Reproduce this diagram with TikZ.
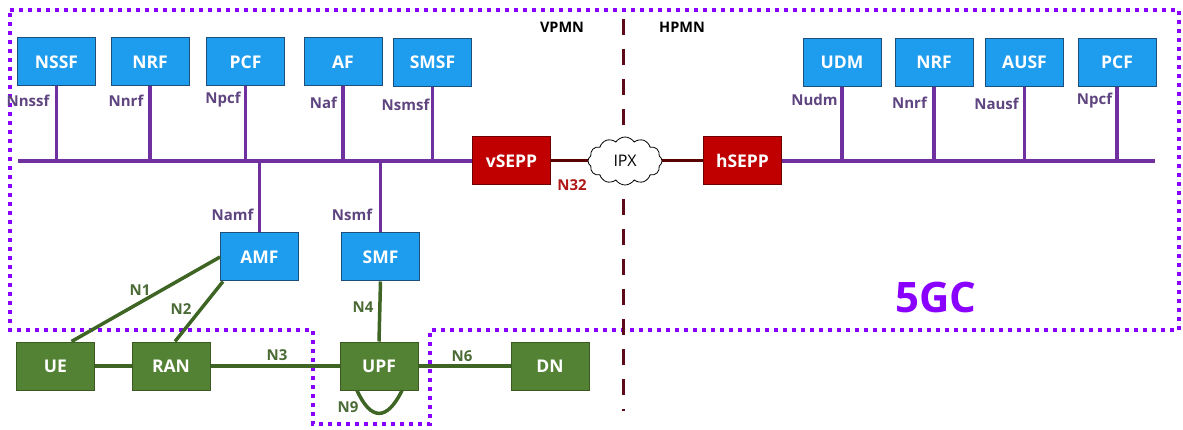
\documentclass[tikz,border=0pt]{standalone}
\usepackage{fontspec}
\setmainfont{Open Sans}
\usetikzlibrary{shapes.symbols}
\definecolor{corepurple}{HTML}{8A00FF}
\definecolor{buspurple}{HTML}{7030A0}
\definecolor{labpurple}{HTML}{5E4580}
\definecolor{nfblue}{HTML}{1E9CEE}
\definecolor{nfblueedge}{HTML}{1F4E79}
\definecolor{upgreen}{HTML}{548235}
\definecolor{upgreenedge}{HTML}{3A5A22}
\definecolor{linkgreen}{HTML}{3E6524}
\definecolor{labgreen}{HTML}{4A6B35}
\definecolor{seppred}{HTML}{C00000}
\definecolor{seppedge}{HTML}{6E0000}
\definecolor{n32line}{HTML}{5A0000}
\definecolor{n32text}{HTML}{B01818}
\definecolor{plmnline}{HTML}{5C0A18}
\tikzset{
  nfbox/.style={draw=nfblueedge, line width=1pt, fill=nfblue, text=white,
    minimum width=78, minimum height=48, inner sep=0pt,
    font=\fontsize{17.5}{20}\selectfont\bfseries},
  upbox/.style={nfbox, draw=upgreenedge, fill=upgreen},
  seppbox/.style={nfbox, draw=seppedge, fill=seppred},
  svcline/.style={buspurple, line width=3.5pt},
  upline/.style={linkgreen, line width=3.5pt},
  n32link/.style={n32line, line width=3pt},
  svclabel/.style={text=labpurple, inner sep=0pt, font=\fontsize{15}{17}\selectfont\bfseries},
  uplabel/.style={text=labgreen, inner sep=0pt, font=\fontsize{15}{17}\selectfont\bfseries},
  plmnlabel/.style={text=black, inner sep=0pt, font=\fontsize{14.5}{17}\selectfont\bfseries},
  coreborder/.style={corepurple, line width=4pt, dash pattern=on 4pt off 5pt}
}
\begin{document}
\begin{tikzpicture}[x=1pt, y=-1pt]
\useasboundingbox (0,0) rectangle (1183,430);

% 5GC boundary, with a notch around the UPF
\draw[coreborder] (10,10) -- (1179,10) -- (1179,330) -- (430,330) -- (430,424)
  -- (313,424) -- (313,330) -- (10,330) -- cycle;

% VPMN / HPMN split
\draw[plmnline, line width=3pt, dash pattern=on 16pt off 14pt] (623,19) -- (623,411);
\node[plmnlabel] (vpmn) at (562,27) {VPMN};
\node[plmnlabel] (hpmn) at (682,27) {HPMN};

% visited network functions
\node[nfbox] (nssf) at (56.5,62) {NSSF};
\node[nfbox] (nrfv) at (150,62) {NRF};
\node[nfbox] (pcfv) at (245.5,62) {PCF};
\node[nfbox] (af)   at (343,62) {AF};
\node[nfbox] (smsf) at (432.5,62.5) {SMSF};
\node[nfbox] (amf)  at (259.5,257) {AMF};
\node[nfbox] (smf)  at (380.5,257) {SMF};

% home network functions
\node[nfbox] (udm)  at (842,62.5) {UDM};
\node[nfbox] (nrfh) at (934,62.5) {NRF};
\node[nfbox] (ausf) at (1024.5,62.5) {AUSF};
\node[nfbox] (pcfh) at (1117,62.5) {PCF};

% security edge proxies
\node[seppbox] (vsepp) at (511.5,161) {vSEPP};
\node[seppbox] (hsepp) at (742.5,161) {hSEPP};

% user plane
\node[upbox] (ue)  at (55.5,366) {UE};
\node[upbox] (ran) at (171,366) {RAN};
\node[upbox] (upf) at (379,366) {UPF};
\node[upbox] (dn)  at (550,366) {DN};

% service-based buses
\coordinate (busv) at (18,161);
\coordinate (bush) at (1155,161);
\draw[svcline] (busv) -- (vsepp.west);
\draw[svcline] (hsepp.east) -- (bush);
\foreach \nf in {nssf,nrfv,pcfv,af,smsf,udm,nrfh,ausf,pcfh}
  \draw[svcline] (\nf.south) -- (\nf.south |- busv);
\draw[svcline] (amf.north |- busv) -- (amf.north);
\draw[svcline] (smf.north |- busv) -- (smf.north);

% N32 over the IPX
\node[cloud, cloud puffs=12, cloud puff arc=115, aspect=1.55, draw=black,
  line width=0.8pt, fill=white, minimum width=74, minimum height=48, inner sep=0pt,
  font=\fontsize{16}{19}\selectfont] (ipx) at (625,161) {IPX};
\draw[n32link] (vsepp.east) -- (ipx.west);
\draw[n32link] (ipx.east) -- (hsepp.west);
\node[text=n32text, inner sep=0pt, font=\fontsize{15}{17}\selectfont\bfseries] (n32) at (572,185) {N32};

% service interface labels
\node[svclabel] (lnssf) at (28,101) {Nnssf};
\node[svclabel] (lnrfv) at (126,101) {Nnrf};
\node[svclabel] (lpcfv) at (223,100) {Npcf};
\node[svclabel] (laf)   at (323.5,103) {Naf};
\node[svclabel] (lsmsf) at (405.5,105) {Nsmsf};
\node[svclabel] (ludm)  at (814.5,100) {Nudm};
\node[svclabel] (lnrfh) at (909.5,103) {Nnrf};
\node[svclabel] (lausf) at (996.5,104) {Nausf};
\node[svclabel] (lpcfh) at (1094.5,101) {Npcf};
\node[svclabel] (lamf)  at (232.5,215) {Namf};
\node[svclabel] (lsmf)  at (352,215) {Nsmf};

% reference points
\draw[upline] ([xshift=16pt]ue.north) -- (amf.west);
\draw[upline] ([xshift=4pt]ran.north) -- ([xshift=3pt]amf.south west);
\draw[upline] (ue.east) -- (ran.west);
\draw[upline] (ran.east) -- (upf.west);
\draw[upline] (upf.east) -- (dn.west);
\draw[upline] (smf.south) -- (upf.north);
\draw[upline] ([xshift=-22pt]upf.south) .. controls (371,421) and (387,421) .. ([xshift=23pt]upf.south);
\node[uplabel] (ln1) at (140,290) {N1};
\node[uplabel] (ln2) at (181,309) {N2};
\node[uplabel] (ln3) at (277,355) {N3};
\node[uplabel] (ln4) at (363,307) {N4};
\node[uplabel] (ln6) at (462,356) {N6};
\node[uplabel] (ln9) at (348,407) {N9};

% core label
\node[text=corepurple, inner sep=0pt, font=\fontsize{42}{48}\selectfont\bfseries] (core) at (936,297) {5GC};
\end{tikzpicture}
\end{document}
